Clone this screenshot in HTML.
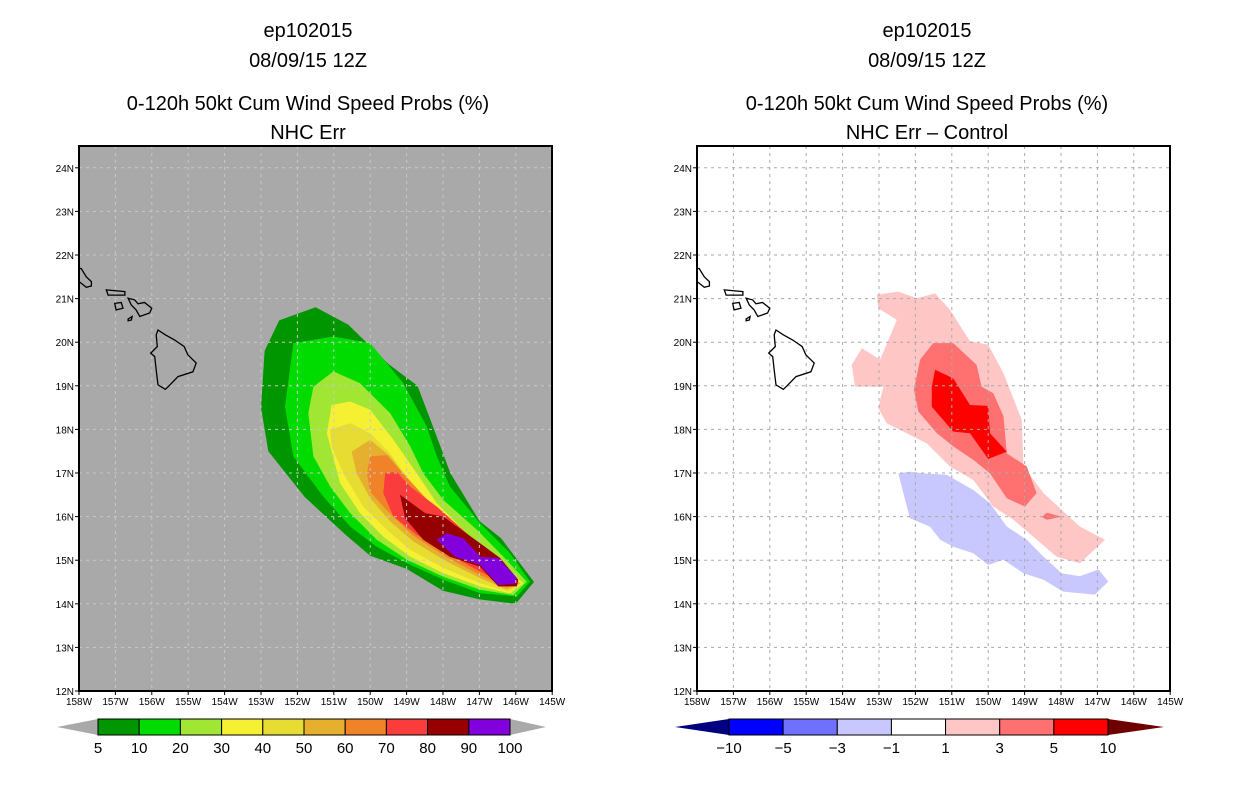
<!DOCTYPE html>
<html><head><meta charset="utf-8">
<style>
body{margin:0;background:#fff;width:1236px;height:800px;overflow:hidden;font-family:"Liberation Sans",sans-serif;}
svg text{font-family:"Liberation Sans",sans-serif;}
</style></head>
<body>
<svg id="fig" width="1236" height="800" viewBox="0 0 1236 800" xmlns="http://www.w3.org/2000/svg">
<g font-size="20" text-anchor="middle" fill="#000">
<text x="308" y="37">ep102015</text><text x="308" y="67">08/09/15 12Z</text>
<text x="308" y="110">0-120h 50kt Cum Wind Speed Probs (%)</text><text x="308" y="139">NHC Err</text></g>
<g font-size="20" text-anchor="middle" fill="#000">
<text x="927" y="37">ep102015</text><text x="927" y="67">08/09/15 12Z</text>
<text x="927" y="110">0-120h 50kt Cum Wind Speed Probs (%)</text><text x="927" y="139">NHC Err – Control</text></g>
<g id="left"></g>
<g id="right"></g>
<g id="cbl"></g>
<g id="cbr"></g>
</svg>
<script>
const lonTicks=[158,157,156,155,154,153,152,151,150,149,148,147,146,145];
const latTicks=[12,13,14,15,16,17,18,19,20,21,22,23,24];
const probLevels=[5,10,20,30,40,50,60,70,80,90];
const probColors=["#009600","#00dc00","#a0e632","#f5f032","#e6dc32","#e6af2d","#f08228","#fa3c3c","#960000","#8200dc"];
const probPolys=[
[[152.5,20.5],[151.5,20.8],[150.6,20.4],[149.5,19.5],[148.7,19.0],[148.2,17.9],[147.8,17.0],[147.0,15.9],[146.4,15.5],[145.5,14.5],[146.0,14.0],[147.0,14.1],[148.0,14.3],[149.0,14.8],[150.0,15.1],[150.7,15.6],[151.8,16.45],[152.8,17.5],[153.0,18.5],[152.9,19.8]],
[[152.11,19.98],[151.01,20.13],[150.0,19.98],[149.09,19.06],[148.45,18.07],[148.17,17.38],[147.81,16.69],[146.98,15.85],[146.16,15.16],[145.61,14.51],[145.97,14.17],[146.98,14.24],[147.99,14.55],[148.99,14.93],[149.82,15.31],[150.55,15.77],[151.29,16.46],[152.11,17.38],[152.34,18.52]],
[[151.56,18.98],[151.01,19.33],[150.28,19.06],[149.45,18.37],[148.9,17.61],[148.54,16.99],[147.99,16.38],[147.07,15.7],[146.34,15.08],[145.7,14.51],[146.07,14.2],[146.98,14.32],[147.99,14.62],[148.99,15.01],[149.82,15.47],[150.55,16.08],[151.1,16.69],[151.56,17.38],[151.7,18.37]],
[[151.06,18.56],[150.55,18.64],[150.0,18.45],[149.36,17.76],[148.72,16.99],[148.17,16.31],[147.26,15.54],[146.52,15.01],[145.79,14.47],[146.16,14.24],[146.98,14.4],[147.99,14.7],[148.9,15.08],[149.64,15.54],[150.28,16.08],[150.83,16.77],[151.19,17.91]],
[[151.1,17.99],[150.55,18.14],[150.0,17.91],[149.45,17.45],[148.81,16.69],[148.08,16.0],[147.26,15.39],[146.52,14.93],[145.84,14.47],[146.2,14.28],[146.98,14.47],[147.99,14.82],[148.9,15.24],[149.55,15.7],[150.19,16.23],[150.74,16.99],[151.06,17.61]],
[[150.51,17.49],[150.0,17.76],[149.45,17.38],[148.9,16.77],[148.17,16.08],[147.26,15.31],[146.52,14.85],[145.88,14.47],[146.25,14.33],[146.98,14.59],[147.9,14.97],[148.81,15.43],[149.45,15.89],[150.0,16.42],[150.37,16.99]],
[[150.09,16.99],[150.0,17.38],[149.55,17.41],[149.09,16.99],[148.35,16.31],[147.44,15.54],[146.61,14.93],[145.93,14.47],[146.25,14.38],[146.98,14.66],[147.9,15.07],[148.81,15.56],[149.55,16.15],[150.0,16.57]],
[[149.64,16.54],[149.59,16.99],[149.27,17.03],[148.9,16.69],[148.17,16.23],[147.35,15.62],[146.61,15.01],[145.97,14.51],[146.25,14.42],[146.98,14.74],[147.9,15.16],[148.72,15.58],[149.36,16.0]],
[[149.18,16.5],[148.49,16.08],[147.99,16.0],[146.98,15.39],[146.43,15.05],[145.93,14.55],[145.97,14.4],[146.48,14.4],[146.98,14.85],[147.81,15.08],[148.54,15.47],[149.04,15.96]],
[[148.17,15.47],[147.9,15.62],[147.44,15.5],[146.98,15.08],[146.48,15.05],[145.97,14.59],[146.02,14.46],[146.48,14.43],[146.98,14.89],[147.67,15.08]]
];
const diffLabels=["-10","-5","-3","-1","1","3","5","10"];
const diffColors=["#0000ff","#7070ff","#c8c8ff","#ffffff","#ffc6c6","#ff7070","#ff0000"];
const diffPolys=[
{c:"#ffc6c6",p:[[153.06,21.09],[152.47,21.16],[151.96,21.01],[151.46,21.12],[151.05,20.74],[150.5,20.02],[150.0,19.94],[149.58,19.29],[149.08,18.22],[149.03,17.15],[148.48,16.54],[147.48,15.77],[146.79,15.47],[147.48,14.93],[148.12,15.08],[148.76,15.54],[149.31,15.93],[149.86,16.23],[150.41,16.84],[151.05,17.15],[151.69,17.68],[152.24,17.91],[152.79,18.14],[153.02,18.49],[152.88,18.98],[153.38,18.98],[153.66,18.98],[153.75,19.48],[153.47,19.86],[152.97,19.6],[152.74,20.05],[152.51,20.51],[153.02,20.78]]},
{c:"#ff7070",p:[[151.51,19.98],[150.96,19.98],[150.32,19.48],[150.18,18.98],[149.86,18.83],[149.58,18.3],[149.49,17.45],[148.94,17.15],[148.67,16.54],[148.99,16.23],[149.49,16.42],[149.95,16.99],[150.41,17.3],[150.96,17.61],[151.41,17.91],[151.92,18.41],[152.04,18.91],[151.87,19.6]]},
{c:"#ff7070",p:[[148.53,15.99],[148.39,16.09],[147.98,16.0],[148.39,15.93]]},
{c:"#ff0000",p:[[151.46,19.37],[150.96,19.17],[150.5,18.56],[150.0,18.54],[149.95,17.91],[149.49,17.49],[150.0,17.32],[150.5,17.91],[150.96,17.95],[151.55,18.52],[151.55,18.98]]},
{c:"#c8c8ff",p:[[152.47,16.99],[152.15,17.03],[151.78,16.99],[151.14,16.96],[150.41,16.61],[149.95,16.31],[149.49,15.77],[148.94,15.47],[148.48,15.08],[147.98,14.7],[147.48,14.63],[146.97,14.79],[146.7,14.51],[147.07,14.21],[147.94,14.28],[148.48,14.55],[149.03,14.7],[149.58,15.01],[150.0,14.89],[150.41,15.16],[150.96,15.31],[151.32,15.47],[151.6,15.77],[152.15,15.96]]}
];
const islands=[
[[155.83,20.28],[155.63,20.17],[155.37,20.05],[155.11,19.9],[155.01,19.71],[154.78,19.52],[154.87,19.32],[155.28,19.21],[155.55,18.98],[155.63,18.92],[155.83,19.02],[155.88,19.36],[155.92,19.67],[156.03,19.75],[155.85,19.9],[155.88,20.17]],
[[156.65,21.01],[156.47,20.97],[156.38,20.88],[156.2,20.91],[156.0,20.78],[156.06,20.67],[156.33,20.59],[156.43,20.74],[156.56,20.85]],
[[157.25,21.2],[156.74,21.16],[156.74,21.08],[157.2,21.08]],
[[157.02,20.89],[156.84,20.91],[156.79,20.78],[156.98,20.74]],
[[156.65,20.53],[156.54,20.59],[156.56,20.51],[156.65,20.49]],
[[158.0,21.69],[157.94,21.69],[157.8,21.5],[157.66,21.39],[157.66,21.29],[157.8,21.26],[157.94,21.35],[158.0,21.39]]
];
const NS="http://www.w3.org/2000/svg";
function mk(parent,tag,attrs){const e=document.createElementNS(NS,tag);for(const k in attrs)e.setAttribute(k,attrs[k]);parent.appendChild(e);return e;}
const Y0=691,Y1=146;
function yS(lat){return 691-(lat-12)*43.6;}
function makePanel(gid,x0,bg,grid,polysFn){
  const g=document.getElementById(gid);
  const xS=lon=>x0+(158-lon)*36.4;
  const pts=p=>p.map(q=>xS(q[0]).toFixed(1)+","+yS(q[1]).toFixed(1)).join(" ");
  const bgR=mk(g,"rect",{x:x0,y:Y1,width:473,height:Y0-Y1,fill:bg});
  
  
  polysFn(g,pts);
  lonTicks.forEach(l=>{const x=xS(l);
    if(l<158&&l>145){const ln=mk(g,"line",{x1:x,y1:Y1,x2:x,y2:Y0,stroke:grid,"stroke-width":1,"stroke-dasharray":"3,4"});
      }
    mk(g,"line",{x1:x,y1:Y0,x2:x,y2:Y0+4,stroke:"#000"});
    const t=mk(g,"text",{x:x,y:705,"font-size":10,"text-anchor":"middle"});t.textContent=l+"W";
    });
  latTicks.forEach(l=>{const y=yS(l);
    if(l>12){const ln=mk(g,"line",{x1:x0,y1:y,x2:x0+473,y2:y,stroke:grid,"stroke-width":1,"stroke-dasharray":"3,4"});
      }
    mk(g,"line",{x1:x0-4,y1:y,x2:x0,y2:y,stroke:"#000"});
    const t=mk(g,"text",{x:x0-5,y:y+4,"font-size":10,"text-anchor":"end"});t.textContent=l+"N";
    });
  const cp=mk(g,"clipPath",{id:gid+"clip"});mk(cp,"rect",{x:x0,y:Y1,width:473,height:Y0-Y1});
  const ig=mk(g,"g",{"clip-path":"url(#"+gid+"clip)"});
  islands.forEach(p=>{const e=mk(ig,"polygon",{points:pts(p),fill:"none",stroke:"#000","stroke-width":1.3});
    });
  const fr=mk(g,"rect",{x:x0,y:Y1,width:473,height:Y0-Y1,fill:"none",stroke:"#000","stroke-width":2});
  
}
makePanel("left",79,"#a9a9a9","#c8c8c8",(g,pts)=>{
  probPolys.forEach((p,i)=>{const e=mk(g,"polygon",{points:pts(p),fill:probColors[i]});
    });
});
makePanel("right",697,"#ffffff","#aaaaaa",(g,pts)=>{
  diffPolys.forEach(d=>{const e=mk(g,"polygon",{points:pts(d.p),fill:d.c});
    });
});
function colorbar(gid,xl,xa,xb,xr,cols,labels,lc,rc){
  const g=document.getElementById(gid);const y0=719,y1=735,ym=727;
  const w=(xb-xa)/cols.length;
  const lt=mk(g,"polygon",{points:`${xl},${ym} ${xa},${y0} ${xa},${y1}`,fill:lc});
  
  const rt=mk(g,"polygon",{points:`${xr},${ym} ${xb},${y0} ${xb},${y1}`,fill:rc});
  
  cols.forEach((c,i)=>{const r=mk(g,"rect",{x:xa+i*w,y:y0,width:w,height:y1-y0,fill:c,stroke:"#000","stroke-width":1});
    });
  labels.forEach((l,i)=>{const t=mk(g,"text",{x:xa+i*w,y:753,"font-size":15,"text-anchor":"middle"});t.textContent=l.replace("-","−");
    });
}
colorbar("cbl",57,98,510,546,probColors,[5,10,20,30,40,50,60,70,80,90,100].map(String),"#a9a9a9","#a9a9a9");
colorbar("cbr",675,729,1108,1164,diffColors,diffLabels,"#000080","#6e0000");
</script>
</body></html>
